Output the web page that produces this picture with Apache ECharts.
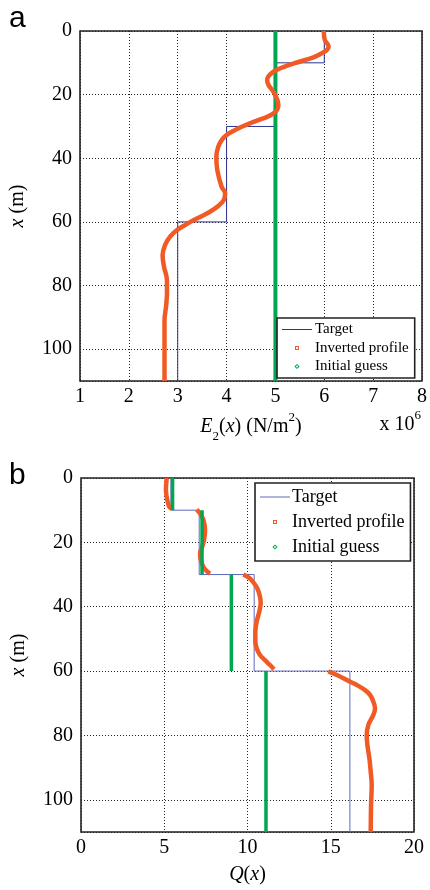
<!DOCTYPE html>
<html>
<head>
<meta charset="utf-8">
<script src="https://cdn.jsdelivr.net/npm/echarts@6/dist/echarts.min.js"></script>
<style>
  html, body { margin: 0; padding: 0; background: #fff; }
  #chart { width: 430px; height: 890px; }
</style>
</head>
<body>
<div id="chart"></div>
<script>
// panel a: E2(x) in units of 1e6 N/m^2, pairs are [value, depth]
const targetA = [[6, 0], [6, 10], [5, 10], [5, 30], [4, 30], [4, 60], [3, 60], [3, 110]];
const invertedA = [[5.99, 0], [6.01, 2.8], [6.09, 4.9], [6.05, 6], [5.95, 7], [5.78, 8.3], [5.61, 9.1],
    [5.44, 9.9], [5.27, 10.7], [5.10, 11.7], [4.96, 12.8], [4.86, 14.2], [4.83, 15.4], [4.86, 17],
    [4.96, 19.1], [5.04, 21.7], [5.06, 23.3], [5.03, 24.9], [4.96, 25.9], [4.83, 27], [4.65, 28],
    [4.48, 29], [4.31, 30.1], [4.14, 31.4], [4.0, 32.7], [3.90, 34.3], [3.83, 36.4], [3.79, 39.5],
    [3.81, 43.7], [3.90, 49], [3.97, 51], [3.94, 53.2], [3.83, 55], [3.66, 56.8], [3.49, 58.2],
    [3.32, 59.5], [3.15, 61], [2.98, 62.6], [2.84, 64.7], [2.74, 67.3], [2.69, 70.5], [2.72, 74.1],
    [2.78, 78.3], [2.78, 82.5], [2.76, 86.7], [2.73, 90.9], [2.73, 100], [2.73, 110]];
const guessA = [[5, 0], [5, 110]];
const ticksA = [1, 2, 3, 4, 5, 6, 7, 8];

// panel b: Q(x), one sub-array per layer
const targetB = [[5.4, 0], [5.4, 10], [7.1, 10], [7.1, 30], [10.4, 30], [10.4, 60], [16.15, 60], [16.15, 110]];
const invertedB = [
    [[5.15, 0], [5.1, 3.7], [5.18, 6.8], [5.3, 8.9], [5.45, 9.6]],
    [[6.95, 9.8], [7.15, 11], [7.35, 13], [7.45, 16.2], [7.39, 19.3], [7.25, 21.8], [7.15, 23.4],
        [7.19, 25.5], [7.35, 27.6], [7.59, 29.1], [7.75, 29.7]],
    [[9.75, 30], [10.15, 31.2], [10.39, 32.7], [10.59, 34.3], [10.75, 36.9], [10.79, 38.9], [10.71, 41.5],
        [10.55, 44.6], [10.47, 47.8], [10.47, 50.9], [10.55, 52.9], [10.75, 55], [11.05, 56.6],
        [11.35, 58.1], [11.59, 59.4]],
    [[14.85, 60.1], [15.36, 61.2], [15.76, 62.2], [16.16, 63.3], [16.56, 64.3], [17.06, 65.9],
        [17.36, 67.4], [17.56, 69.5], [17.66, 71.6], [17.56, 73.6], [17.26, 76.7], [17.16, 79.9],
        [17.2, 83], [17.32, 87.1], [17.4, 91.3], [17.46, 95.4], [17.42, 101.6], [17.4, 110]]
];
const guessB = [[[5.5, 0], [5.5, 10]], [[7.27, 10], [7.27, 30]], [[9.03, 30], [9.03, 60]], [[11.11, 60], [11.11, 110]]];
const ticksB = [0, 5, 10, 15, 20];
const depthTicks = [0, 20, 40, 60, 80, 100];

const names = ['Target', 'Inverted profile', 'Initial guess'];

const orange = '#f15a24';
const green = '#00a651';
const blueA = '#2b3590';
const blueB = '#6068bc';
const serif = 'Liberation Serif';

// glue layers together with a gap so the line breaks between them
function joinSegments(segs) {
    let out = [];
    segs.forEach(function (s, i) {
        if (i > 0) out.push(['-', '-']);
        out = out.concat(s);
    });
    return out;
}

// legend icons drawn in a 30x14 box (first two moves fix the box)
const iconLine = 'path://M0,0M30,14M0,6.5L30,6.5L30,7.5L0,7.5Z';
const iconSquare = 'path://M0,0M30,14M13,5L17,5L17,9L13,9Z M14,6L14,8L16,8L16,6Z';
const iconDiamond = 'path://M0,0M30,14M15,4.4L17.6,7L15,9.6L12.4,7Z M15,5.8L13.8,7L15,8.2L16.2,7Z';

function legendData(blue) {
    return [
        { name: names[0], icon: iconLine, itemStyle: { color: blue, borderWidth: 0 } },
        { name: names[1], icon: iconSquare, itemStyle: { color: orange, borderWidth: 0 } },
        { name: names[2], icon: iconDiamond, itemStyle: { color: green, borderWidth: 0 } }
    ];
}

const rich = {
    i: { fontFamily: serif, fontSize: 20, fontStyle: 'italic', fontWeight: 'normal', color: '#000', lineHeight: 32 },
    n: { fontFamily: serif, fontSize: 20, fontWeight: 'normal', color: '#000', lineHeight: 32 },
    sub: { fontFamily: serif, fontSize: 13, fontWeight: 'normal', color: '#000', lineHeight: 14, verticalAlign: 'bottom' },
    sup: { fontFamily: serif, fontSize: 13, fontWeight: 'normal', color: '#000', lineHeight: 14, verticalAlign: 'top' }
};

function xAxisOf(grid, ticks, name, gap) {
    return {
        gridIndex: grid,
        type: 'value',
        min: ticks[0],
        max: ticks[ticks.length - 1],
        interval: ticks[1] - ticks[0],
        axisLine: { show: false },
        axisTick: { show: false },
        axisLabel: { color: '#000', fontFamily: serif, fontSize: 20, margin: 6 },
        splitLine: { show: true, lineStyle: { color: '#222', width: 1, type: [1, 2] } },
        name: name,
        nameLocation: 'middle',
        nameGap: gap,
        nameTextStyle: { fontFamily: serif, fontSize: 20, color: '#000', rich: rich }
    };
}

function yAxisOf(grid) {
    return {
        gridIndex: grid,
        type: 'value',
        inverse: true,
        min: 0,
        max: 110,
        interval: depthTicks[1] - depthTicks[0],
        axisLine: { show: false },
        axisTick: { show: false },
        axisLabel: { color: '#000', fontFamily: serif, fontSize: 20, margin: 8, showMaxLabel: false },
        splitLine: { show: true, lineStyle: { color: '#222', width: 1, type: [1, 2] } },
        name: '{i|x}{n| (m)}',
        nameLocation: 'middle',
        nameGap: 46,
        nameTextStyle: { fontFamily: serif, fontSize: 20, color: '#000', rich: rich }
    };
}

var chartDom = document.getElementById('chart');
var myChart = echarts.init(chartDom);
var option;

option = {
    animation: false,
    backgroundColor: '#fff',
    title: [
        { text: 'a', left: 9, top: 4, padding: 0,
          textStyle: { fontFamily: 'Liberation Sans', fontSize: 30, fontWeight: 'normal', color: '#000' } },
        { text: 'b', left: 9, top: 461, padding: 0,
          textStyle: { fontFamily: 'Liberation Sans', fontSize: 30, fontWeight: 'normal', color: '#000' } },
        { text: '{n|x 10}{sup|6}', right: 9, top: 409, padding: 0,
          textStyle: { fontFamily: serif, fontSize: 20, fontWeight: 'normal', color: '#000', rich: rich } }
    ],
    grid: [
        { left: 80, right: 8, top: 31, height: 350, show: true, borderColor: '#222', borderWidth: 1.6 },
        { left: 81, right: 16, top: 478, height: 354, show: true, borderColor: '#222', borderWidth: 1.6 }
    ],
    legend: [
        {
            orient: 'vertical', left: 277, top: 318,
            itemWidth: 30, itemHeight: 14, itemGap: 3.5,
            padding: [4, 6, 4, 5],
            backgroundColor: '#fff', borderColor: '#222', borderWidth: 1.6,
            textStyle: { fontFamily: serif, fontSize: 15, color: '#000', padding: [0, 0, 0, -2] },
            selectedMode: false,
            data: legendData(blueA)
        },
        {
            orient: 'vertical', left: 255, top: 483,
            itemWidth: 30, itemHeight: 14, itemGap: 7,
            padding: [5, 6, 5, 5],
            backgroundColor: '#fff', borderColor: '#222', borderWidth: 1.6,
            textStyle: { fontFamily: serif, fontSize: 18, color: '#000', padding: [0, 0, 0, -3] },
            selectedMode: false,
            data: legendData(blueB)
        }
    ],
    xAxis: [
        xAxisOf(0, ticksA, '{i|E}{sub|2}{n|(}{i|x}{n|) (N/m}{sup|2}{n|)}', 30),
        xAxisOf(1, ticksB, '{i|Q}{n|(}{i|x}{n|)}', 27)
    ],
    yAxis: [yAxisOf(0), yAxisOf(1)],
    series: [
        {
            name: names[0], type: 'line', xAxisIndex: 0, yAxisIndex: 0,
            data: targetA, symbol: 'none', z: 2,
            lineStyle: { color: blueA, width: 1 }, itemStyle: { color: blueA }
        },
        {
            name: names[2], type: 'line', xAxisIndex: 0, yAxisIndex: 0,
            data: guessA, symbol: 'none', z: 3,
            lineStyle: { color: green, width: 4 }, itemStyle: { color: green }
        },
        {
            name: names[1], type: 'line', xAxisIndex: 0, yAxisIndex: 0,
            data: invertedA, symbol: 'none', smooth: 0.35, z: 4,
            lineStyle: { color: orange, width: 4.5 }, itemStyle: { color: orange }
        },
        {
            name: names[0], type: 'line', xAxisIndex: 1, yAxisIndex: 1,
            data: targetB, symbol: 'none', z: 2,
            lineStyle: { color: blueB, width: 1 }, itemStyle: { color: blueB }
        },
        {
            name: names[1], type: 'line', xAxisIndex: 1, yAxisIndex: 1,
            data: joinSegments(invertedB), symbol: 'none', smooth: 0.35, connectNulls: false, z: 3,
            lineStyle: { color: orange, width: 4.5 }, itemStyle: { color: orange }
        },
        {
            name: names[2], type: 'line', xAxisIndex: 1, yAxisIndex: 1,
            data: joinSegments(guessB), symbol: 'none', connectNulls: false, z: 4,
            lineStyle: { color: green, width: 3.5 }, itemStyle: { color: green }
        }
    ]
};
option && myChart.setOption(option);
</script>
</body>
</html>
